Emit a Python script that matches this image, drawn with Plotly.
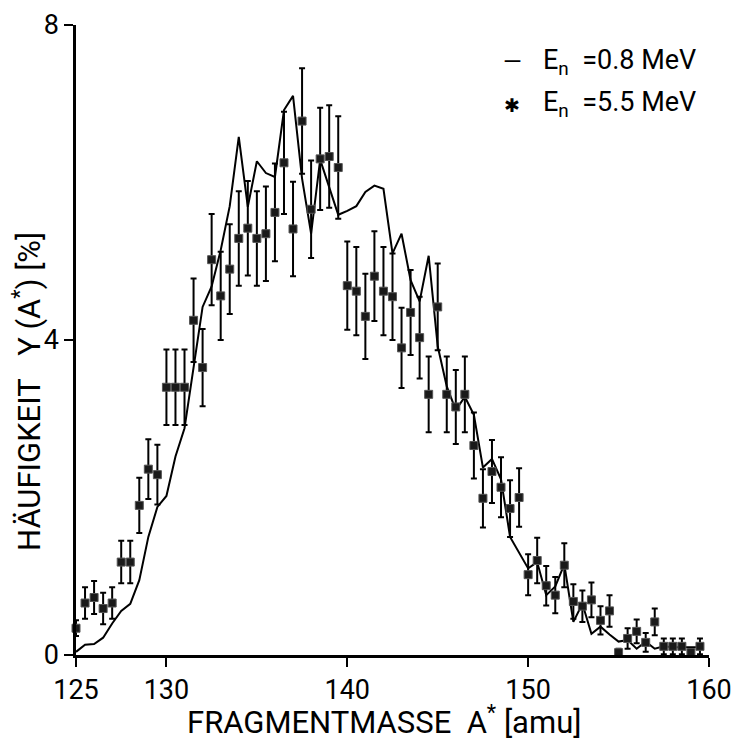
import plotly.graph_objects as go

# ---- data: E_n = 5.5 MeV (points with error bars) ----
mass_55 = [125.0, 125.5, 126.0, 126.5, 127.0, 127.5, 128.0, 128.5, 129.0, 129.5,
           130.0, 130.5, 131.0, 131.5, 132.0, 132.5, 133.0, 133.5, 134.0, 134.5,
           135.0, 135.5, 136.0, 136.5, 137.0, 137.5, 138.0, 138.5, 139.0, 139.5,
           140.0, 140.5, 141.0, 141.5, 142.0, 142.5, 143.0, 143.5, 144.0, 144.5,
           145.0, 145.5, 146.0, 146.5, 147.0, 147.5, 148.0, 148.5, 149.0, 149.5,
           150.0, 150.5, 151.0, 151.5, 152.0, 152.5, 153.0, 153.5, 154.0, 154.5,
           155.0, 155.5, 156.0, 156.5, 157.0, 157.5, 158.0, 158.5, 159.0, 159.5]
yield_55 = [0.34, 0.66, 0.73, 0.59, 0.66, 1.18, 1.18, 1.90, 2.36, 2.29,
            3.40, 3.40, 3.40, 4.25, 3.65, 5.02, 4.56, 4.90, 5.29, 5.42,
            5.29, 5.35, 5.62, 6.25, 5.41, 6.78, 5.66, 6.30, 6.33, 6.19,
            4.69, 4.62, 4.30, 4.81, 4.62, 4.55, 3.90, 4.35, 4.03, 3.31,
            4.42, 3.31, 3.15, 3.31, 2.66, 1.99, 2.33, 2.13, 1.86, 2.00,
            1.02, 1.20, 0.88, 0.76, 1.14, 0.68, 0.62, 0.70, 0.44, 0.56,
            0.03, 0.21, 0.30, 0.16, 0.42, 0.11, 0.11, 0.11, 0.03, 0.11]
err_55 = [0.10, 0.20, 0.21, 0.20, 0.20, 0.27, 0.27, 0.35, 0.38, 0.38,
          0.48, 0.48, 0.48, 0.53, 0.49, 0.58, 0.56, 0.57, 0.60, 0.60,
          0.60, 0.60, 0.62, 0.65, 0.60, 0.67, 0.62, 0.65, 0.65, 0.65,
          0.56, 0.56, 0.54, 0.57, 0.56, 0.55, 0.51, 0.54, 0.52, 0.48,
          0.55, 0.48, 0.47, 0.48, 0.42, 0.37, 0.40, 0.38, 0.36, 0.37,
          0.26, 0.29, 0.25, 0.23, 0.28, 0.22, 0.20, 0.22, 0.18, 0.20,
          0.05, 0.13, 0.15, 0.12, 0.17, 0.10, 0.10, 0.10, 0.05, 0.10]

# ---- data: E_n = 0.8 MeV (line) ----
mass_08 = [125.0, 125.5, 126.0, 126.5, 127.0, 127.5, 128.0, 128.5, 129.0, 129.5,
           130.0, 130.5, 131.0, 131.5, 132.0, 132.5, 133.0, 133.5, 134.0, 134.5,
           135.0, 135.5, 136.0, 136.5, 137.0, 137.5, 138.0, 138.5, 139.0, 139.5,
           140.0, 140.5, 141.0, 141.5, 142.0, 142.5, 143.0, 143.5, 144.0, 144.5,
           145.0, 145.5, 146.0, 146.5, 147.0, 147.5, 148.0, 148.5, 149.0, 149.5,
           150.0, 150.5, 151.0, 151.5, 152.0, 152.5, 153.0, 153.5, 154.0, 154.5,
           155.0, 155.5, 156.0, 156.5, 157.0, 157.5, 158.0, 158.5, 159.0, 159.5]
yield_08 = [0.04, 0.13, 0.14, 0.22, 0.40, 0.56, 0.65, 0.95, 1.50, 1.88,
            2.02, 2.52, 2.88, 3.65, 4.42, 4.68, 5.14, 5.70, 6.58, 5.69,
            6.27, 6.12, 6.07, 6.92, 7.10, 6.05, 5.35, 6.29, 5.95, 5.59,
            5.64, 5.70, 5.88, 5.96, 5.92, 5.10, 5.35, 4.76, 4.49, 5.07,
            3.92, 3.41, 3.11, 3.28, 3.05, 2.38, 2.49, 2.23, 1.50, 1.30,
            1.10, 1.18, 0.76, 0.87, 1.15, 0.42, 0.65, 0.27, 0.36, 0.26,
            0.17, 0.19, 0.08, 0.17, 0.08, 0.11, 0.10, 0.10, 0.10, 0.10]

x_ticks = [125, 130, 140, 150, 160]
y_ticks = [0, 4, 8]

FONT = "Roboto, Liberation Sans, sans-serif"

L, R, T, B = 76, 22, 25, 87
W, H = 731, 742
PW, PH = W - L - R, H - T - B


def px(xp):
    return (xp - L) / PW


def py(yp):
    return (H - B - yp) / PH


fig = go.Figure()

fig.add_trace(go.Scatter(
    x=mass_08, y=yield_08, mode="lines",
    line=dict(color="black", width=2),
    name="E_n = 0.8 MeV", showlegend=False, cliponaxis=False,
))

fig.add_trace(go.Scatter(
    x=mass_55, y=yield_55, mode="markers",
    marker=dict(symbol="square", size=8, color="#1a1a1a",
                line=dict(color="#555", width=1)),
    error_y=dict(type="data", array=err_55, visible=True,
                 color="black", thickness=2, width=3),
    name="E_n = 5.5 MeV", showlegend=False, cliponaxis=False,
))

fig.update_layout(
    width=W, height=H,
    margin=dict(l=L, r=R, t=T, b=B, autoexpand=False),
    paper_bgcolor="white", plot_bgcolor="white",
    font=dict(family=FONT, size=27, color="black"),
    xaxis=dict(
        range=[125, 160], tickvals=x_ticks, ticktext=[str(t) for t in x_ticks],
        showgrid=False, zeroline=False, showline=True, linecolor="black",
        linewidth=2.5, ticks="outside", ticklen=9, tickwidth=2,
        tickcolor="black", tickfont=dict(size=27, family=FONT),
        ticklabeloverflow="allow", automargin=False,
    ),
    yaxis=dict(
        range=[0, 8], tickvals=y_ticks, ticktext=[str(t) for t in y_ticks],
        showgrid=False, zeroline=False, showline=True, linecolor="black",
        linewidth=2.5, ticks="outside", ticklen=9, tickwidth=2,
        tickcolor="black", tickfont=dict(size=27, family=FONT),
        ticklabeloverflow="allow", automargin=False,
    ),
)

# axis titles
fig.add_annotation(xref="paper", yref="paper", x=px(384), y=py(720),
                   text="FRAGMENTMASSE  A<sup>*</sup> [amu]", showarrow=False,
                   font=dict(size=31, family=FONT), xanchor="center", yanchor="middle")
fig.add_annotation(xref="paper", yref="paper", x=px(28), y=py(392),
                   text="HÄUFIGKEIT   Y (A<sup>*</sup>) [%]", showarrow=False, textangle=-90,
                   font=dict(size=31, family=FONT), xanchor="center", yanchor="middle")

# legend as text
fig.add_annotation(xref="paper", yref="paper", x=px(512), y=py(62),
                   text="—", showarrow=False, font=dict(size=24, family=FONT),
                   xanchor="center", yanchor="middle")
fig.add_annotation(xref="paper", yref="paper", x=px(541), y=py(62),
                   text="E<sub>n</sub>  =0.8 MeV", showarrow=False,
                   font=dict(size=27, family=FONT), xanchor="left", yanchor="middle")
fig.add_annotation(xref="paper", yref="paper", x=px(512), y=py(105),
                   text="✱", showarrow=False, font=dict(size=19, family=FONT),
                   xanchor="center", yanchor="middle")
fig.add_annotation(xref="paper", yref="paper", x=px(541), y=py(104),
                   text="E<sub>n</sub>  =5.5 MeV", showarrow=False,
                   font=dict(size=27, family=FONT), xanchor="left", yanchor="middle")

fig.write_html("out.html")
